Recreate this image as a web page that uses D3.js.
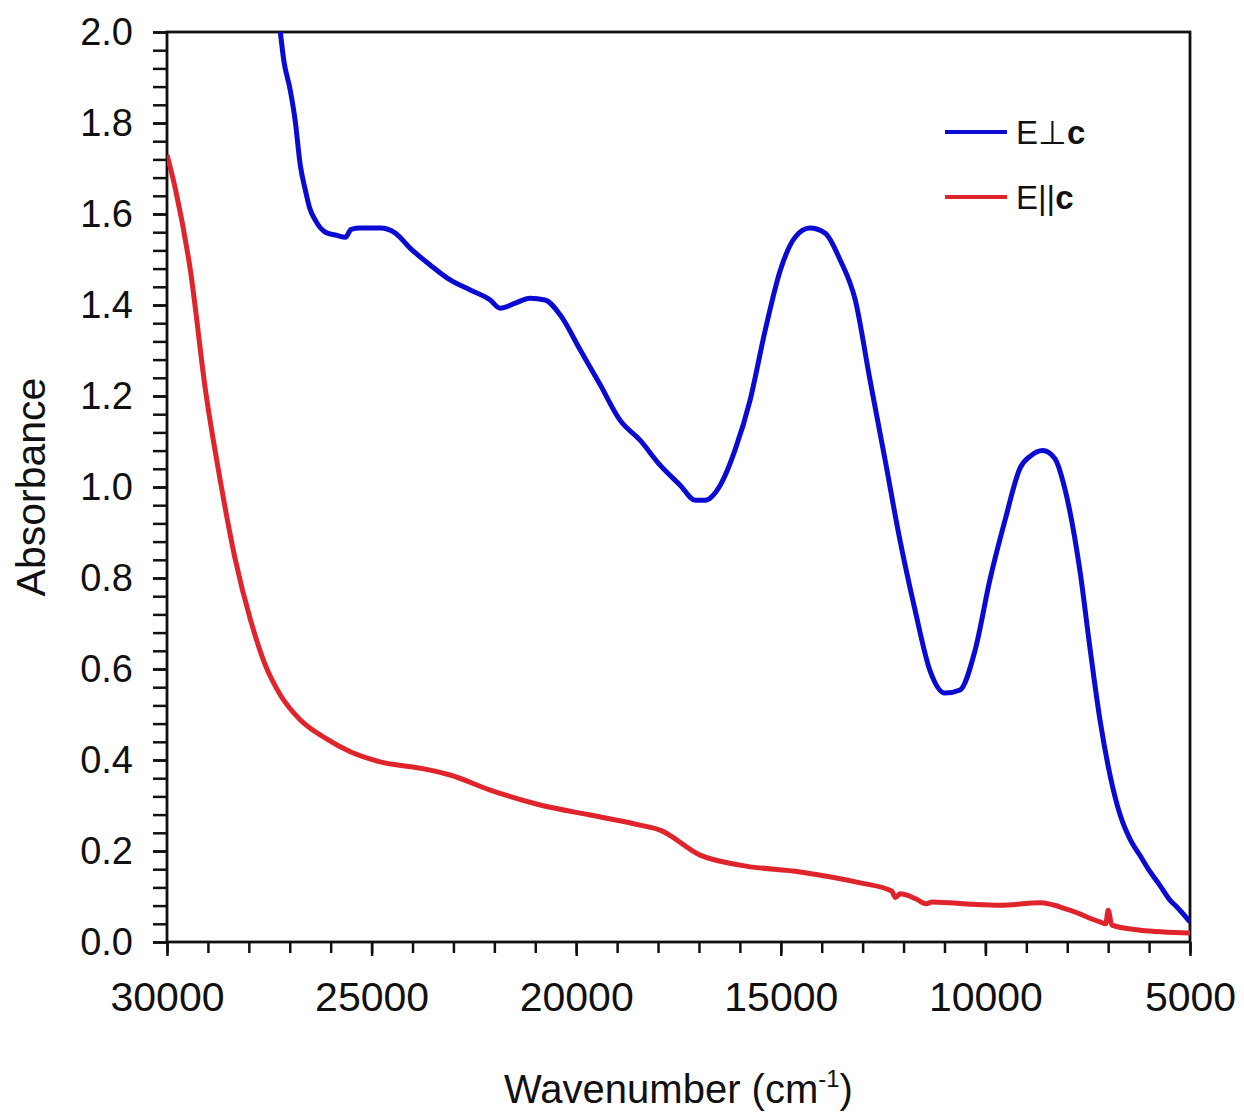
<!DOCTYPE html>
<html>
<head>
<meta charset="utf-8">
<script src="https://cdn.jsdelivr.net/npm/d3@7"></script>
<style>
  body { margin: 0; background: #fff; }
  svg text { font-family: "Liberation Sans", Arial, sans-serif; fill: #111; }
</style>
</head>
<body>
<div class="chart"></div>
<script>
// E perpendicular c (blue), wavenumber cm-1 vs absorbance
const perpWave = [27230, 27150, 26990, 26870, 26744, 26620, 26520, 26380, 26130, 25850, 25640, 25500, 25280, 24790, 24420, 24060, 23570, 23080, 22590, 22100, 21860, 21490, 21130, 20760, 20390, 19900, 19410, 18930, 18440, 17950, 17460, 17090, 16850, 16480, 16120, 15750, 15380, 15010, 14650, 14290, 13920, 13550, 13180, 12820, 12450, 12090, 11720, 11360, 10990, 10620, 10250, 9890, 9520, 9150, 8900, 8600, 8300, 8050, 7690, 7450, 7200, 6950, 6710, 6460, 6220, 5980, 5740, 5490, 5320, 5000];
const perpAbs  = [2.00, 1.94, 1.873, 1.807, 1.708, 1.653, 1.615, 1.587, 1.560, 1.553, 1.549, 1.566, 1.569, 1.569, 1.558, 1.525, 1.488, 1.455, 1.433, 1.411, 1.393, 1.404, 1.415, 1.411, 1.378, 1.301, 1.224, 1.147, 1.103, 1.048, 1.004, 0.971, 0.971, 1.004, 1.081, 1.191, 1.345, 1.477, 1.549, 1.569, 1.558, 1.499, 1.411, 1.235, 1.059, 0.884, 0.730, 0.598, 0.547, 0.554, 0.642, 0.796, 0.927, 1.042, 1.068, 1.080, 1.062, 0.993, 0.816, 0.650, 0.488, 0.365, 0.280, 0.225, 0.190, 0.155, 0.125, 0.092, 0.077, 0.044];

// E parallel c (red)
const paraWave = [30000, 29790, 29430, 29060, 28700, 28330, 27960, 27600, 27230, 26740, 26130, 25520, 24790, 23810, 23080, 22100, 20880, 19660, 18440, 17950, 16970, 16000, 14530, 13060, 12290, 12200, 12090, 11700, 11450, 11300, 10870, 10300, 9640, 8670, 7940, 7200, 7060, 7000, 6910, 6220, 5000];
const paraAbs  = [1.73, 1.653, 1.477, 1.213, 1.015, 0.840, 0.708, 0.609, 0.543, 0.488, 0.448, 0.418, 0.396, 0.382, 0.367, 0.334, 0.301, 0.279, 0.257, 0.246, 0.191, 0.169, 0.154, 0.130, 0.112, 0.098, 0.106, 0.095, 0.084, 0.088, 0.086, 0.083, 0.081, 0.086, 0.070, 0.044, 0.040, 0.070, 0.037, 0.026, 0.020];

const xTicks = [30000, 25000, 20000, 15000, 10000, 5000];
const yTicks = [0.0, 0.2, 0.4, 0.6, 0.8, 1.0, 1.2, 1.4, 1.6, 1.8, 2.0];

const seriesNames = ['E\u22A5', 'E||'];
const seriesColors = ['#0a0ad2', '#e0242c'];

const width = 1244, height = 1115;
const margin = { left: 167, right: 54, top: 32, bottom: 173 };
const w = width - margin.left - margin.right;
const h = height - margin.top - margin.bottom;

const svg = d3.select('div.chart').append('svg')
  .attr('width', width)
  .attr('height', height);

const plot = svg.append('g')
  .attr('transform', 'translate(' + margin.left + ',' + margin.top + ')');

const x = d3.scaleLinear().domain([30000, 5000]).range([0, w]);
const y = d3.scaleLinear().domain([0, 2]).range([h, 0]);

// minor ticks first
plot.append('g')
  .attr('transform', 'translate(0,' + h + ')')
  .call(d3.axisBottom(x).tickValues(d3.range(5000, 30001, 1000)).tickSize(11).tickFormat(''))
  .call(g => g.select('.domain').remove())
  .call(g => g.selectAll('line').attr('stroke', '#111').attr('stroke-width', 2.5));

plot.append('g')
  .call(d3.axisLeft(y).tickValues(d3.range(0, 2.001, 0.04)).tickSize(14).tickFormat(''))
  .call(g => g.select('.domain').remove())
  .call(g => g.selectAll('line').attr('stroke', '#111').attr('stroke-width', 2.5));

// major ticks + labels
const xAxis = plot.append('g')
  .attr('transform', 'translate(0,' + h + ')')
  .call(d3.axisBottom(x).tickValues(xTicks).tickSize(14).tickPadding(26).tickFormat(d3.format('d')));
xAxis.select('.domain').remove();
xAxis.selectAll('line').attr('stroke', '#111').attr('stroke-width', 2.5);
xAxis.selectAll('text').attr('font-size', 41).attr('fill', '#111');

const yAxis = plot.append('g')
  .call(d3.axisLeft(y).tickValues(yTicks).tickSize(14).tickPadding(20).tickFormat(d3.format('.1f')));
yAxis.select('.domain').remove();
yAxis.selectAll('line').attr('stroke', '#111').attr('stroke-width', 2.5);
yAxis.selectAll('text').attr('font-size', 38).attr('fill', '#111');

// frame
plot.append('rect')
  .attr('width', w).attr('height', h)
  .attr('fill', 'none').attr('stroke', '#111').attr('stroke-width', 2.8);

plot.append('clipPath').attr('id', 'clip')
  .append('rect').attr('width', w).attr('height', h);

const line = d3.line()
  .x(d => x(d[0]))
  .y(d => y(d[1]))
  .curve(d3.curveMonotoneX);

const series = [
  d3.zip(perpWave, perpAbs),
  d3.zip(paraWave, paraAbs)
];

plot.append('g').attr('clip-path', 'url(#clip)')
  .selectAll('path.spec')
  .data(series)
  .enter()
  .append('path')
    .attr('class', 'spec')
    .attr('d', line)
    .attr('fill', 'none')
    .attr('stroke', (d, i) => seriesColors[i])
    .attr('stroke-width', 5)
    .attr('stroke-linejoin', 'round');

// legend
const legend = plot.selectAll('g.legend')
  .data(seriesNames)
  .enter()
  .append('g')
    .attr('class', 'legend')
    .attr('transform', (d, i) => 'translate(' + (945 - margin.left) + ',' + (132 - margin.top + i * 65) + ')');

legend.append('line')
  .attr('x1', 0).attr('x2', 62)
  .attr('stroke', (d, i) => seriesColors[i])
  .attr('stroke-width', 4);

const lt = legend.append('text')
  .attr('x', 71)
  .attr('y', 12)
  .attr('font-size', 33);
lt.append('tspan').text(d => d);
lt.append('tspan').attr('font-weight', 'bold').text('c');

// axis titles
const xt = svg.append('text')
  .attr('x', margin.left + w / 2)
  .attr('y', 1103)
  .attr('text-anchor', 'middle')
  .attr('font-size', 40);
xt.append('tspan').text('Wavenumber (cm');
xt.append('tspan').attr('font-size', 24).attr('dy', -16).text('-1');
xt.append('tspan').attr('dy', 16).text(')');

svg.append('text')
  .attr('transform', 'translate(45,' + (margin.top + h / 2) + ') rotate(-90)')
  .attr('text-anchor', 'middle')
  .attr('font-size', 41)
  .text('Absorbance');
</script>
</body>
</html>
